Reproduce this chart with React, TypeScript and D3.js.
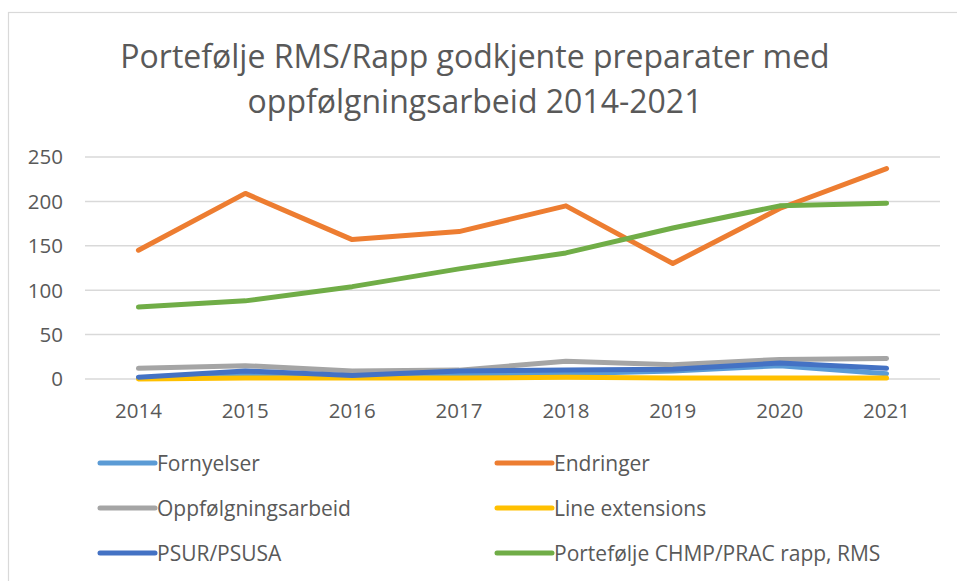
import React, { useEffect, useRef } from "react";
import * as d3 from "d3";

const years = ["2014", "2015", "2016", "2017", "2018", "2019", "2020", "2021"];
const yTicks = [0, 50, 100, 150, 200, 250];

const fornyelser = [1, 6, 3, 5, 6, 9, 15, 6];
const endringer = [145, 209, 157, 166, 195, 130, 192, 237];
const oppfolgning = [12, 15, 9, 10, 20, 16, 22, 23];
const lineExtensions = [0, 1, 1, 1, 2, 1, 1, 1];
const psur = [2, 9, 4, 9, 10, 11, 18, 12];
const portefolje = [81, 88, 104, 124, 142, 170, 195, 198];

const seriesNames = [
  "Fornyelser",
  "Endringer",
  "Oppfølgningsarbeid",
  "Line extensions",
  "PSUR/PSUSA",
  "Portefølje CHMP/PRAC rapp, RMS",
];
const seriesValues = [fornyelser, endringer, oppfolgning, lineExtensions, psur, portefolje];
const colors = ["#5B9BD5", "#ED7D31", "#A5A5A5", "#FFC000", "#4472C4", "#70AD47"];

const titleLines = ["Portefølje RMS/Rapp godkjente preparater med", "oppfølgningsarbeid 2014-2021"];

const W = 957;
const H = 581;

const App = () => {
  const svgRef = useRef<SVGSVGElement>(null);

  useEffect(() => {
    const svg = d3.select(svgRef.current);
    svg.selectAll("*").remove();
    const font = "'Open Sans', sans-serif";
    const textColor = "#595959";

    // chart border
    svg.append("rect")
      .attr("x", 8.5).attr("y", 12.5)
      .attr("width", W + 20).attr("height", H + 20)
      .attr("fill", "white")
      .attr("stroke", "#D9D9D9").attr("stroke-width", 1.2);

    // title
    svg.append("g").selectAll("text")
      .data(titleLines)
      .enter().append("text")
      .attr("x", 475)
      .attr("y", (d, i) => 68 + i * 45)
      .attr("text-anchor", "middle")
      .attr("font-family", font)
      .attr("font-size", 32)
      .attr("fill", textColor)
      .text(d => d);

    const x = d3.scalePoint<string>().domain(years).range([85, 940]).padding(0.5);
    const y = d3.scaleLinear().domain([0, 250]).range([379, 157]);

    // gridlines
    svg.append("g").selectAll("line")
      .data(yTicks)
      .enter().append("line")
      .attr("x1", 85).attr("x2", 940)
      .attr("y1", d => y(d)).attr("y2", d => y(d))
      .attr("stroke", "#D9D9D9").attr("stroke-width", 1.5);

    // y labels
    svg.append("g").selectAll("text")
      .data(yTicks)
      .enter().append("text")
      .attr("x", 63)
      .attr("y", d => y(d))
      .attr("dy", "0.36em")
      .attr("text-anchor", "end")
      .attr("font-family", font)
      .attr("font-size", 20.5)
      .attr("fill", textColor)
      .text(d => d);

    // x labels
    svg.append("g").selectAll("text")
      .data(years)
      .enter().append("text")
      .attr("x", d => x(d)!)
      .attr("y", 418)
      .attr("text-anchor", "middle")
      .attr("font-family", font)
      .attr("font-size", 20.5)
      .attr("fill", textColor)
      .text(d => d);

    // lines
    const line = d3.line<number>()
      .x((d, i) => x(years[i])!)
      .y(d => y(d));

    svg.append("g").selectAll("path")
      .data(seriesValues)
      .enter().append("path")
      .attr("d", d => line(d))
      .attr("fill", "none")
      .attr("stroke", (d, i) => colors[i])
      .attr("stroke-width", 5)
      .attr("stroke-linecap", "round")
      .attr("stroke-linejoin", "round");

    // legend
    const legend = svg.append("g").selectAll("g")
      .data(seriesNames)
      .enter().append("g")
      .attr("transform", (d, i) => `translate(${i % 2 === 0 ? 100 : 497},${463 + Math.floor(i / 2) * 45})`);

    legend.append("line")
      .attr("x1", 0).attr("x2", 55)
      .attr("y1", 0).attr("y2", 0)
      .attr("stroke", (d, i) => colors[i])
      .attr("stroke-width", 5)
      .attr("stroke-linecap", "round");

    legend.append("text")
      .attr("x", 57)
      .attr("y", 0)
      .attr("dy", "0.36em")
      .attr("font-family", font)
      .attr("font-size", 21)
      .attr("fill", textColor)
      .text(d => d);
  }, []);

  return (
    <svg
      ref={svgRef}
      width={W}
      height={H}
      style={{ position: "absolute", left: 0, top: 0, background: "white" }}
    ></svg>
  );
};

export default App;
